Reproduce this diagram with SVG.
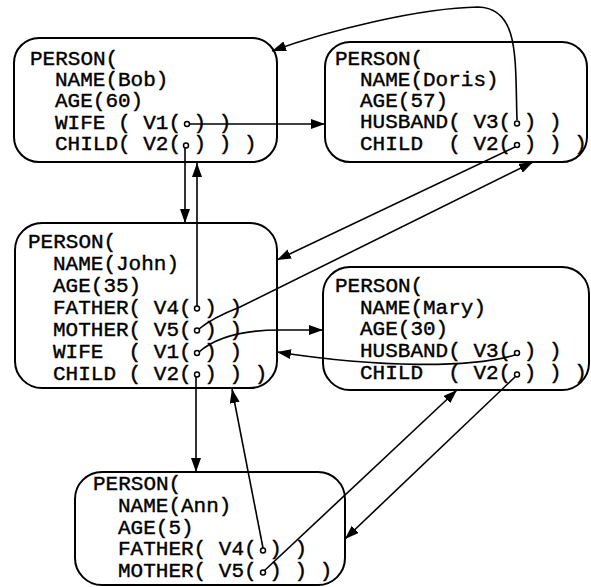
<svg xmlns="http://www.w3.org/2000/svg" width="591" height="587" viewBox="0 0 591 587" xml:space="preserve">
  <style>
    .box { fill: none; stroke: #000; stroke-width: 2; }
    .t { font-family: "Liberation Mono", "Courier New", monospace; font-size: 21px; fill: #000; stroke: #000; stroke-width: 0.4; white-space: pre; }
    .slot { fill: #fff; stroke: #000; stroke-width: 1.5; }
    .link { fill: none; stroke: #000; stroke-width: 1.6; marker-end: url(#arrow); }
  </style>
  <defs>
    <marker id="arrow" markerUnits="userSpaceOnUse" markerWidth="15" markerHeight="11" refX="14" refY="5" orient="auto">
      <path d="M0,0 L14,5 L0,10 z" fill="#000"/>
    </marker>
  </defs>
  <rect width="591" height="587" fill="#fff"/>

  <!-- pointer links between the person records -->
  <g id="connectors">
    <path class="link" d="M190,124 L325,124"/>
    <path class="link" d="M185,148 L185,223"/>
    <path class="link" d="M197,306 L197,163"/>
    <path class="link" d="M517,120 C515,60 520,8 478,7 C420,8 330,30 272,51"/>
    <path class="link" d="M515,147 L277,260"/>
    <path class="link" d="M199,329 Q212,318 240,307 L533,162"/>
    <path class="link" d="M199,352 C215,338 240,330 280,330 L323,330"/>
    <path class="link" d="M515,355 C470,368 380,368 277,352"/>
    <path class="link" d="M196,376 L196,472"/>
    <path class="link" d="M263,548 L232,389"/>
    <path class="link" d="M264,571 L457,390"/>
    <path class="link" d="M515,377 L345,539"/>
  </g>

  <g id="bob">
    <rect class="box" x="14" y="38" width="263" height="124" rx="25"/>
    <text class="t" x="30" y="65">PERSON(</text>
    <text class="t" x="55" y="86">NAME(Bob)</text>
    <text class="t" x="55" y="107">AGE(60)</text>
    <text class="t" x="55" y="128.5">WIFE ( V1( ) )</text>
    <text class="t" x="55" y="150">CHILD( V2( ) ) )</text>
    <circle class="slot" cx="187" cy="124" r="2.5"/>
    <circle class="slot" cx="186" cy="145.5" r="2.5"/>
  </g>

  <g id="doris">
    <rect class="box" x="325" y="42" width="262" height="120" rx="25"/>
    <text class="t" x="335" y="64.5">PERSON(</text>
    <text class="t" x="360" y="85.5">NAME(Doris)</text>
    <text class="t" x="360" y="107">AGE(57)</text>
    <text class="t" x="360" y="128">HUSBAND( V3( ) )</text>
    <text class="t" x="360" y="149.5">CHILD  ( V2( ) ) )</text>
    <circle class="slot" cx="517" cy="123.5" r="2.5"/>
    <circle class="slot" cx="517" cy="145" r="2.5"/>
  </g>

  <g id="john">
    <rect class="box" x="15" y="223" width="262" height="165" rx="27"/>
    <text class="t" x="28" y="248">PERSON(</text>
    <text class="t" x="53" y="270">NAME(John)</text>
    <text class="t" x="53" y="292">AGE(35)</text>
    <text class="t" x="53" y="314">FATHER( V4( ) )</text>
    <text class="t" x="53" y="336">MOTHER( V5( ) )</text>
    <text class="t" x="53" y="358">WIFE  ( V1( ) )</text>
    <text class="t" x="53" y="380">CHILD ( V2( ) ) )</text>
    <circle class="slot" cx="197" cy="308.5" r="2.5"/>
    <circle class="slot" cx="197" cy="330.5" r="2.5"/>
    <circle class="slot" cx="197" cy="353" r="2.5"/>
    <circle class="slot" cx="197" cy="374.5" r="2.5"/>
  </g>

  <g id="mary">
    <rect class="box" x="323" y="267" width="266" height="123" rx="27"/>
    <text class="t" x="335" y="292">PERSON(</text>
    <text class="t" x="360" y="313.5">NAME(Mary)</text>
    <text class="t" x="360" y="335">AGE(30)</text>
    <text class="t" x="360" y="357">HUSBAND( V3( ) )</text>
    <text class="t" x="360" y="379">CHILD  ( V2( ) ) )</text>
    <circle class="slot" cx="517" cy="353" r="2.5"/>
    <circle class="slot" cx="517" cy="374.5" r="2.5"/>
  </g>

  <g id="ann">
    <rect class="box" x="75" y="472" width="270" height="113" rx="27"/>
    <text class="t" x="93" y="490">PERSON(</text>
    <text class="t" x="118" y="512">NAME(Ann)</text>
    <text class="t" x="118" y="533.5">AGE(5)</text>
    <text class="t" x="118" y="555">FATHER( V4( ) )</text>
    <text class="t" x="118" y="577">MOTHER( V5( ) ) )</text>
    <circle class="slot" cx="263" cy="550.5" r="2.5"/>
    <circle class="slot" cx="263" cy="572.5" r="2.5"/>
  </g>
</svg>
